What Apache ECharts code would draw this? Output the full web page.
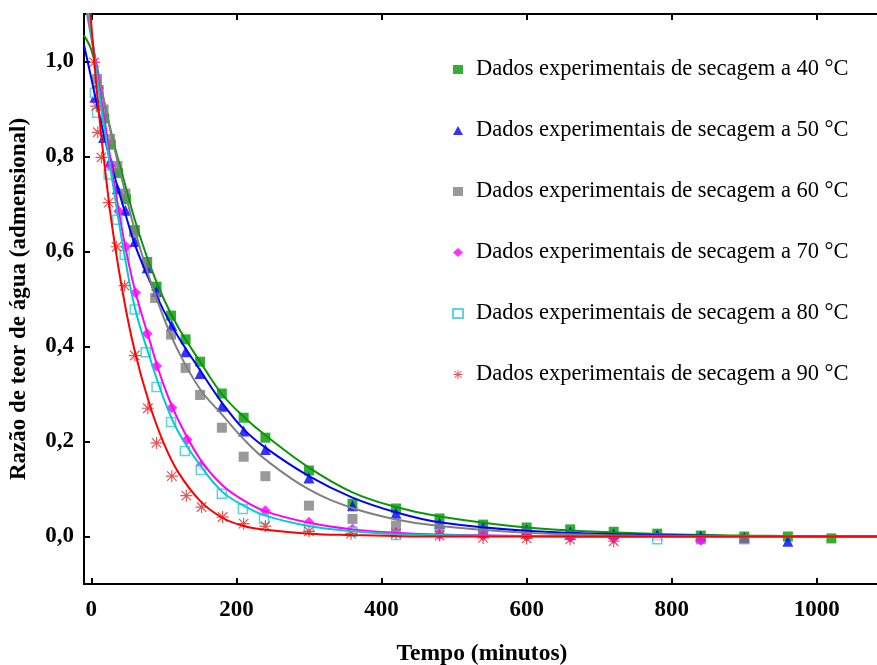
<!DOCTYPE html>
<html>
<head>
<meta charset="utf-8">
<title>Razão de teor de água</title>
<script src="https://cdn.jsdelivr.net/npm/echarts@6/dist/echarts.min.js"></script>
<style>
  html, body { margin: 0; padding: 0; background: #fff; }
  #main { width: 877px; height: 665px; }
</style>
</head>
<body>
<div id="main"></div>
<script>
// dados experimentais (tempo em minutos, razao de teor de agua)
var t40 = [10, 18, 27, 37, 48, 60, 77, 90, 110, 130, 150, 180, 210, 240, 300, 360, 420, 480, 540, 600, 660, 720, 780, 840, 900, 960, 1020];
var mr40 = [0.94, 0.88, 0.825, 0.765, 0.71, 0.645, 0.578, 0.526, 0.465, 0.415, 0.368, 0.301, 0.25, 0.208, 0.139, 0.069, 0.059, 0.038, 0.025, 0.019, 0.015, 0.010, 0.006, 0.002, 0.000, 0.000, -0.004];

var t50 = [5, 17, 26, 36, 47, 60, 77, 90, 111, 130, 150, 180, 210, 240, 300, 360, 420, 480, 540, 600, 660, 720, 780, 840, 900, 960];
var mr50 = [0.925, 0.84, 0.79, 0.732, 0.687, 0.621, 0.566, 0.516, 0.444, 0.389, 0.343, 0.274, 0.222, 0.183, 0.123, 0.065, 0.049, 0.028, 0.02, 0.014, 0.01, 0.006, 0.003, 0.001, -0.002, -0.01];

var t60 = [8, 17, 26, 36, 47, 59, 77, 88, 110, 130, 150, 180, 210, 240, 300, 360, 420, 480, 540, 600, 660, 840, 900];
var mr60 = [0.963, 0.899, 0.837, 0.78, 0.722, 0.641, 0.576, 0.502, 0.425, 0.355, 0.298, 0.229, 0.168, 0.127, 0.065, 0.037, 0.023, 0.019, 0.013, 0.009, 0.004, -0.006, -0.006];

var t70 = [10, 26, 38, 48, 61, 77, 90, 111, 132, 151, 240, 300, 360, 420, 480, 540, 600, 660, 720, 840];
var mr70 = [0.944, 0.78, 0.685, 0.61, 0.513, 0.427, 0.359, 0.271, 0.204, 0.149, 0.054, 0.03, 0.016, 0.008, 0.004, 0.002, 0.0, -0.002, -0.004, -0.008];

var t80 = [5, 8, 24, 36, 46, 60, 75, 90, 110, 129, 151, 180, 209, 238, 300, 360, 420, 780];
var mr80 = [0.934, 0.892, 0.762, 0.667, 0.593, 0.478, 0.388, 0.315, 0.241, 0.18, 0.14, 0.09, 0.058, 0.037, 0.02, 0.01, 0.003, -0.006];

var t90 = [4, 7, 9, 14, 24, 35, 46, 60, 78, 90, 111, 131, 152, 181, 210, 240, 300, 358, 420, 480, 540, 600, 660, 720];
var mr90 = [0.998, 0.906, 0.851, 0.798, 0.703, 0.61, 0.528, 0.381, 0.27, 0.197, 0.127, 0.086, 0.062, 0.041, 0.027, 0.022, 0.011, 0.006, 0.006, 0.002, -0.003, -0.004, -0.006, -0.01];

// curvas ajustadas
var tFit = [-10, 0, 10, 20, 30, 45, 60, 80, 100, 120, 150, 180, 210, 240, 300, 360, 420, 480, 600, 750, 900, 1090];
var fit40 = [1.055, 1.025, 0.965, 0.9, 0.835, 0.75, 0.667, 0.575, 0.5, 0.44, 0.368, 0.3, 0.252, 0.213, 0.145, 0.093, 0.062, 0.042, 0.019, 0.007, 0.002, 0.0];
var fit50 = [1.035, 0.965, 0.895, 0.83, 0.77, 0.69, 0.615, 0.54, 0.475, 0.42, 0.35, 0.282, 0.226, 0.187, 0.127, 0.082, 0.051, 0.03, 0.012, 0.004, 0.001, 0.0];
var fit60 = [1.14, 1.05, 0.975, 0.9, 0.83, 0.735, 0.645, 0.545, 0.46, 0.39, 0.31, 0.257, 0.205, 0.162, 0.099, 0.06, 0.036, 0.022, 0.008, 0.002, 0.001, 0.0];
var fit70 = [1.17, 1.06, 0.96, 0.86, 0.76, 0.625, 0.52, 0.415, 0.318, 0.245, 0.163, 0.109, 0.076, 0.053, 0.029, 0.015, 0.008, 0.004, 0.001, 0.0, 0.0, 0.0];
var fit80 = [1.18, 1.06, 0.945, 0.84, 0.74, 0.6, 0.482, 0.38, 0.29, 0.22, 0.15, 0.095, 0.065, 0.044, 0.022, 0.011, 0.005, 0.003, 0.001, 0.0, 0.0, 0.0];
var fit90 = [1.28, 1.08, 0.9, 0.76, 0.64, 0.5, 0.39, 0.28, 0.196, 0.135, 0.075, 0.04, 0.022, 0.014, 0.006, 0.003, 0.001, 0.0, 0.0, 0.0, 0.0, 0.0];

var legendNames = ['Dados experimentais de secagem a 40 °C', 'Dados experimentais de secagem a 50 °C',
    'Dados experimentais de secagem a 60 °C', 'Dados experimentais de secagem a 70 °C',
    'Dados experimentais de secagem a 80 °C', 'Dados experimentais de secagem a 90 °C'];

function pairs(xs, ys) {
    var out = [];
    for (var i = 0; i < xs.length; i++) out.push([xs[i], ys[i]]);
    return out;
}

var starPath = 'path://M0 4.5L10 4.5L10 5.5L0 5.5Z M4.5 0L5.5 0L5.5 10L4.5 10Z M0.7 1.4L1.4 0.7L9.3 8.6L8.6 9.3Z M8.6 0.7L9.3 1.4L1.4 9.3L0.7 8.6Z';
var serif = 'Liberation Serif';

function scatter(name, data, symbol, size, style) {
    return { name: name, type: 'scatter', data: data, symbol: symbol, symbolSize: size, itemStyle: style, z: 2 };
}
function fitLine(name, data, color) {
    return {
        name: name, type: 'line', data: data, smooth: 0.4, showSymbol: false, symbol: 'none',
        lineStyle: { color: color, width: 2 }, z: 3, silent: true
    };
}

var myChart = echarts.init(document.getElementById('main'));
var option = {
    animation: false,
    backgroundColor: '#fff',
    grid: { left: 84, right: -3, top: 14, bottom: 81, outerBoundsMode: 'none', containLabel: false },
    legend: {
        orient: 'vertical',
        left: 447, top: 53,
        itemWidth: 10, itemHeight: 9, itemGap: 38,
        data: legendNames,
        textStyle: { fontFamily: serif, fontSize: 22.5, color: '#000', lineHeight: 22, padding: [0, 0, 0, 8] }
    },
    xAxis: [{
        type: 'value', min: -10, max: 1087, position: 'bottom',
        name: 'Tempo (minutos)', nameLocation: 'middle', nameGap: 58,
        nameTextStyle: { fontFamily: serif, fontSize: 23.5, fontWeight: 'bold', color: '#000' },
        axisLine: { onZero: false, lineStyle: { color: '#000', width: 2 } },
        axisTick: { inside: true, length: 6, lineStyle: { color: '#000', width: 2 } },
        axisLabel: { showMinLabel: false, showMaxLabel: false, margin: 15,
            fontFamily: serif, fontSize: 23, fontWeight: 'bold', color: '#000',
            formatter: function (v) { return String(v); } },
        splitLine: { show: false }
    }, {
        type: 'value', min: -10, max: 1087, position: 'top',
        axisLine: { onZero: false, lineStyle: { color: '#000', width: 2 } },
        axisTick: { inside: true, length: 6, lineStyle: { color: '#000', width: 2 } },
        axisLabel: { show: false },
        splitLine: { show: false }
    }],
    yAxis: {
        type: 'value', min: -0.1, max: 1.1,
        name: 'Razão de teor de água (admensional)', nameLocation: 'middle', nameGap: 53,
        nameTextStyle: { fontFamily: serif, fontSize: 23, fontWeight: 'bold', color: '#000' },
        axisLine: { show: true, onZero: false, lineStyle: { color: '#000', width: 2 } },
        axisTick: { show: true, inside: true, length: 6, lineStyle: { color: '#000', width: 2 } },
        axisLabel: {
            showMinLabel: false, showMaxLabel: false, margin: 10,
            fontFamily: serif, fontSize: 23, fontWeight: 'bold', color: '#000',
            formatter: function (v) { return v.toFixed(1).replace('.', ','); }
        },
        splitLine: { show: false }
    },
    series: [
        scatter(legendNames[0], pairs(t40, mr40), 'rect', 10, { color: '#009900' }),
        scatter(legendNames[1], pairs(t50, mr50), 'triangle', 11, { color: '#0000ff' }),
        scatter(legendNames[2], pairs(t60, mr60), 'rect', 10, { color: '#808080' }),
        scatter(legendNames[3], pairs(t70, mr70), 'diamond', 11, { color: '#ff00ff' }),
        scatter(legendNames[4], pairs(t80, mr80), 'rect', 9, { color: '#ffffff', borderColor: '#33cccc', borderWidth: 1.5 }),
        scatter(legendNames[5], pairs(t90, mr90), starPath, 12, { color: '#dd2a2a' }),
        fitLine('Modelo 40', pairs(tFit, fit40), '#0a960a'),
        fitLine('Modelo 50', pairs(tFit, fit50), '#0000ff'),
        fitLine('Modelo 60', pairs(tFit, fit60), '#808080'),
        fitLine('Modelo 70', pairs(tFit, fit70), '#ff00ff'),
        fitLine('Modelo 80', pairs(tFit, fit80), '#00cccc'),
        fitLine('Modelo 90', pairs(tFit, fit90), '#ff0000')
    ]
};
myChart.setOption(option);
</script>
</body>
</html>
